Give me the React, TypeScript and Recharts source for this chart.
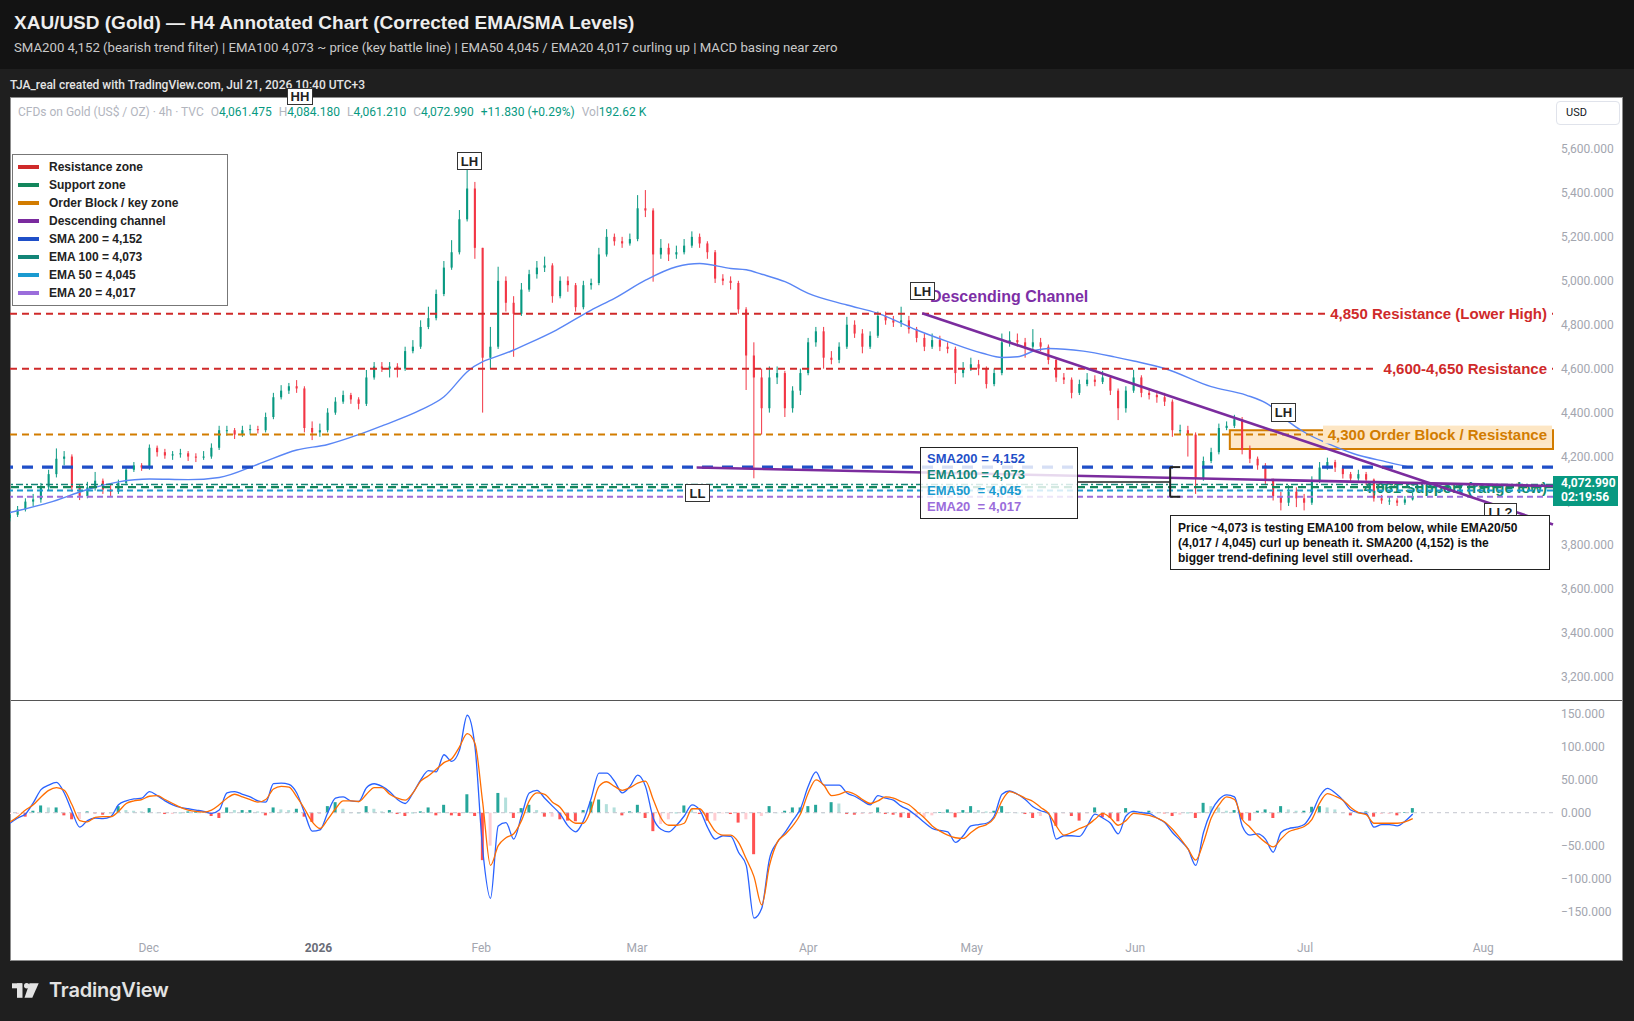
import React from 'react';
import { ComposedChart, Bar, Line, XAxis, YAxis, ReferenceLine, ReferenceArea } from 'recharts';

// ---------- DATA ----------
// x = bar index (one bar per trading day), price axis in USD
const FIRST_OPEN = 3920;
const CLOSE = [
  3935, 3960, 3995, 4005, 4060, 4120, 4190, 4200, 4060, 4020,
  4060, 4090, 4050, 4040, 4080, 4140, 4160, 4150, 4240, 4220,
  4205, 4210, 4215, 4200, 4195, 4200, 4240, 4320, 4320, 4300,
  4320, 4325, 4320, 4380, 4470, 4500, 4520, 4510, 4330, 4310,
  4320, 4400, 4450, 4480, 4460, 4440, 4560, 4610, 4600, 4610,
  4600, 4680, 4700, 4790, 4830, 4940, 5060, 5130, 5280, 5420,
  5150, 4650, 4700, 5000, 4900, 4850, 4960, 5030, 5060, 5070,
  4930, 5000, 4980, 4880, 4980, 4990, 5120, 5200, 5180, 5170,
  5190, 5330, 5320, 5120, 5150, 5120, 5130, 5160, 5200, 5170,
  5130, 5010, 5000, 4990, 4870, 4660, 4560, 4420, 4560, 4580,
  4420, 4500, 4580, 4720, 4770, 4650, 4640, 4700, 4800, 4760,
  4700, 4750, 4840, 4820, 4810, 4820, 4780, 4740, 4700, 4730,
  4700, 4690, 4580, 4600, 4620, 4600, 4530, 4580, 4720, 4730,
  4720, 4700, 4720, 4700, 4640, 4560, 4550, 4490, 4530, 4550,
  4540, 4560, 4500, 4420, 4500, 4560, 4490, 4480, 4470, 4450,
  4320, 4320, 4300, 4100, 4180, 4220, 4330, 4340, 4370, 4230,
  4190, 4160, 4090, 4020, 3990, 4040, 4010, 3990, 4090, 4150,
  4175, 4150, 4120, 4100, 4120, 4095, 4010, 4000, 4000, 3990,
  4005, 4020,
];
const HIGH = [
  3950, 3975, 4010, 4030, 4080, 4140, 4237, 4225, 4210, 4075,
  4085, 4130, 4100, 4070, 4095, 4155, 4175, 4170, 4255, 4250,
  4235, 4225, 4235, 4225, 4215, 4225, 4260, 4340, 4340, 4330,
  4340, 4345, 4340, 4400, 4490, 4525, 4535, 4548, 4520, 4360,
  4350, 4420, 4470, 4500, 4490, 4470, 4594, 4630, 4630, 4630,
  4625, 4700, 4730, 4820, 4882, 4960, 5090, 5185, 5322, 5530,
  5450, 5150, 4790, 5064, 5020, 4930, 4990, 5050, 5090, 5110,
  5080, 5020, 5020, 4990, 5000, 5010, 5150, 5235, 5215, 5200,
  5215, 5390, 5413, 5330, 5190, 5170, 5160, 5190, 5225, 5215,
  5180, 5140, 5030, 5020, 5000, 4880, 4720, 4600, 4610, 4610,
  4590, 4520, 4600, 4740, 4790, 4790, 4680, 4720, 4836, 4820,
  4780, 4770, 4860, 4860, 4840, 4882, 4840, 4790, 4760, 4760,
  4750, 4720, 4700, 4630, 4650, 4640, 4610, 4600, 4760, 4770,
  4760, 4740, 4780, 4740, 4710, 4650, 4580, 4560, 4550, 4580,
  4570, 4590, 4570, 4510, 4520, 4595, 4570, 4510, 4500, 4490,
  4460, 4345, 4340, 4310, 4200, 4240, 4350, 4360, 4390, 4380,
  4250, 4200, 4170, 4100, 4040, 4070, 4060, 4030, 4110, 4175,
  4195, 4185, 4160, 4130, 4140, 4130, 4100, 4025, 4020, 4010,
  4020, 4035,
];
const LOW = [
  3905, 3925, 3950, 3975, 3990, 4045, 4105, 4160, 4040, 4002,
  4010, 4045, 4030, 4020, 4030, 4070, 4130, 4135, 4140, 4200,
  4190, 4185, 4195, 4180, 4175, 4185, 4190, 4230, 4295, 4280,
  4290, 4300, 4305, 4310, 4370, 4460, 4485, 4490, 4310, 4275,
  4290, 4310, 4390, 4440, 4440, 4415, 4430, 4550, 4585, 4560,
  4560, 4590, 4670, 4690, 4780, 4820, 4930, 5050, 5120, 5270,
  5100, 4400, 4600, 4690, 4860, 4654, 4840, 4950, 5010, 5040,
  4900, 4920, 4950, 4860, 4870, 4960, 4980, 5110, 5160, 5150,
  5160, 5180, 5290, 4996, 5100, 5090, 5100, 5120, 5150, 5150,
  5100, 4990, 4980, 4960, 4850, 4503, 4101, 4300, 4400, 4530,
  4380, 4400, 4480, 4570, 4700, 4600, 4620, 4625, 4690, 4740,
  4670, 4690, 4740, 4800, 4790, 4790, 4760, 4720, 4680, 4690,
  4680, 4670, 4530, 4560, 4590, 4570, 4510, 4520, 4570, 4700,
  4700, 4650, 4690, 4680, 4620, 4540, 4530, 4465, 4480, 4520,
  4520, 4530, 4480, 4366, 4400, 4490, 4470, 4460, 4445, 4430,
  4290, 4300, 4200, 4030, 4090, 4170, 4210, 4320, 4330, 4210,
  4170, 4140, 4070, 4000, 3955, 3975, 3970, 3955, 3980, 4080,
  4140, 4130, 4100, 4080, 4090, 4070, 3995, 3985, 3980, 3975,
  3980, 4000,
];

// 200 SMA curve (sampled along the blue line)
const SMA_IDX = [0, 5, 10, 14, 18, 23, 27, 32, 37, 41, 45, 48, 53, 56, 59, 65, 70.5, 75, 78, 82, 86, 89, 93, 95, 97, 100, 103, 108, 112, 117, 121, 125.5, 128, 130, 132.5, 134, 138.5, 142.5, 145, 149, 155, 159.5, 162.5, 164.7, 167.3, 170, 173.3, 177.6, 180.5];
const SMA_VAL = [3945, 3990, 4050, 4085, 4098, 4095, 4105, 4165, 4230, 4255, 4300, 4340, 4412, 4472, 4586, 4685, 4776, 4867, 4920, 5003, 5064, 5079, 5056, 5050, 5030, 4996, 4943, 4890, 4852, 4776, 4723, 4670, 4651, 4654, 4685, 4692, 4680, 4654, 4635, 4601, 4518, 4480, 4434, 4366, 4305, 4260, 4214, 4176, 4153];

// MACD (12,26,9) line and signal line
const MACD = [
  -16, -8, -2, 15, 35, 42, 46, 30, 2, -22,
  -12, -8, -9, -6, 12, 18, 21, 22, 32, 26,
  18, 12, 8, 6, 4, 2, -1, 4, 30, 32,
  28, 24, 18, 16, 44, 45, 43, 30, 0, -28,
  -26, 0, 22, 24, 18, 17, 38, 44, 40, 32,
  20, 14, 30, 50, 64, 62, 88, 78, 95, 148,
  100, -57, -130, -20, -15, -40, -5, 30, 34, 22,
  10, -2, -20, -29, -12, 22, 60, 60, 48, 30,
  40, 57, 40, -8, -25, -29, -19, -5, 12, 4,
  -22, -40, -35, -36, -60, -80, -160, -145, -70, -45,
  -30, -12, 6, 40, 62, 42, 42, 42, 30, 25,
  18, 12, 26, 22, 19, 10, 4, -5, -15, -24,
  -27, -29, -45, -35, -20, -18, -16, -5, 28, 33,
  28, 20, 9, 3, -1, -40, -35, -35, -36, -20,
  -2, -8, -16, -32, -5, 2, 0, -1, -8, -15,
  -30, -42, -55, -80, -30, 2, 20, 27, 24, -20,
  -34, -32, -40, -60, -30, -24, -22, -18, -1, 25,
  37, 30, 19, 4, 0, -1, -22, -18, -18, -20,
  -13, -2,
];
const SIGNAL = [
  -14, -6, 4, 12, 24, 34, 38, 34, 12, -12,
  -14, -7, -6, -6, 2, 14, 18, 20, 25, 26,
  20, 14, 8, 4, 2, 1, 4, 12, 22, 28,
  24, 20, 16, 20, 36, 40, 39, 24, 6, -14,
  -24, -10, 6, 18, 18, 17, 28, 38, 38, 28,
  22, 19, 30, 48, 56, 66, 76, 82, 100, 120,
  105, 15, -80, -50, -38, -32, -12, 18, 30, 28,
  16, 8, -8, -16, -16, 5, 40, 47, 40, 34,
  38, 45, 48, 20, -8, -19, -19, -16, 6, 6,
  -10, -28, -34, -34, -45, -70, -97, -140, -80, -45,
  -33, -20, -2, 30, 50, 42, 26, 28, 32, 28,
  20, 14, 18, 24, 22, 17, 12, 2, -8, -20,
  -28, -34, -38, -39, -30, -22, -18, -8, 18, 32,
  28, 22, 17, 8, -1, -20, -34, -30, -24, -19,
  -10, -1, -8, -19, -12, -1, -2, -4, -8, -14,
  -25, -39, -55, -72, -45, -8, 12, 24, 20, -10,
  -22, -35, -45, -52, -40, -29, -25, -21, -10, 15,
  29, 25, 19, 8, 0, -3, -16, -16, -16, -16,
  -14, -9,
];

// time axis
const MONTH_TICK_IDX = [17.9, 39.8, 60.8, 80.9, 103.0, 124.1, 145.2, 167.1, 190.1];
const MONTH_LABELS = ['Dec', '2026', 'Feb', 'Mar', 'Apr', 'May', 'Jun', 'Jul', 'Aug'];
const X_MAX = 199.1;

// price axis
const PRICE_TICKS = [3200, 3400, 3600, 3800, 4000, 4200, 4400, 4600, 4800, 5000, 5200, 5400, 5600];
const PRICE_DOMAIN = [3092, 5832];
const MACD_TICKS = [-150, -100, -50, 0, 50, 100, 150];
const MACD_DOMAIN = [-181.1, 169.6];

// key levels
const LEVEL_R1 = 4850;
const LEVEL_R2 = 4600;
const LEVEL_OB = 4300;
const OB_ZONE = { x1: 157.4, y1: 4234, y2: 4320 };
const SMA200 = 4152;
const EMA100 = 4073;
const SUPPORT = 4061;
const EMA50 = 4045;
const EMA20 = 4017;
const CHANNEL_UPPER = [{ x: 117.7, y: 4852 }, { x: X_MAX, y: 3891 }];
const CHANNEL_LOWER = [{ x: 88.6, y: 4150 }, { x: X_MAX, y: 4066 }];
const BRACKET = { x: 149.7, xTick: 151, xFrom: 137.7, top: SMA200, bottom: EMA20, mid: 4084 };

const LEGEND_ITEMS = [
  ['Resistance zone', '#cf2a2a'],
  ['Support zone', '#13865c'],
  ['Order Block / key zone', '#d27c00'],
  ['Descending channel', '#7a2a9e'],
  ['SMA 200 = 4,152', '#1f4fc8'],
  ['EMA 100 = 4,073', '#128577'],
  ['EMA 50 = 4,045', '#1a9ad0'],
  ['EMA 20 = 4,017', '#9b6ddb'],
];

// ---------- STYLE ----------
const UI = 'Roboto, "Liberation Sans", Arial, sans-serif';
const AN = '"Liberation Sans", Arial, sans-serif';
const RED = '#cf2a2a';
const ORANGE = '#d27c00';
const PURPLE = '#7b2c9e';
const BLUE = '#1f4fc8';
const TEAL = '#128577';
const GREEN = '#13865c';
const CYAN = '#1a9ad0';
const LAV = '#9b6ddb';
const UP = '#089981';
const DOWN = '#f23645';
const ZONE_FILL = '#fde6c4';

const Candle = (props: any) => {
  const { x, y, width, height, payload } = props;
  if (x == null || y == null) return null;
  const top = Math.min(y, y + height);
  const span = Math.abs(height);
  const { o, c, h, l } = payload;
  const k = span / Math.max(1e-6, h - l);
  const bTop = top + (h - Math.max(o, c)) * k;
  const bBot = top + (h - Math.min(o, c)) * k;
  const col = c >= o ? UP : DOWN;
  const cx = x + width / 2;
  return (
    <g>
      <line x1={cx} x2={cx} y1={top} y2={top + span} stroke={col} strokeWidth={1} />
      <rect x={x} y={bTop} width={width} height={Math.max(1, bBot - bTop)} fill={col} />
    </g>
  );
};

const HistBar = (props: any) => {
  const { x, y, width, height, payload } = props;
  if (x == null || y == null) return null;
  return <rect x={x} y={Math.min(y, y + height)} width={width} height={Math.max(0.5, Math.abs(height))} fill={payload.col} />;
};

const EndLabel = (props: any) => {
  const { viewBox, text, color, bg, bgW = 0 } = props;
  if (!viewBox) return null;
  const { x, y, width } = viewBox;
  const right = x + width - 6;
  return (
    <g>
      {bg ? <rect x={right - bgW - 5} y={y - 9} width={bgW + 10} height={18} fill={bg} /> : null}
      <text
        x={right}
        y={y}
        textAnchor="end"
        dominantBaseline="central"
        fill={color}
        fontFamily={AN}
        fontWeight="bold"
        fontSize={15}
      >
        {text}
      </text>
    </g>
  );
};

const fmtPrice = (v: number) => v.toLocaleString('en-US', { minimumFractionDigits: 3, maximumFractionDigits: 3 });
const fmtMacd = (v: number) => (v < 0 ? '\u2212' : '') + Math.abs(v).toFixed(3);

const TimeTick = (props: any) => {
  const { x, y, payload } = props;
  const idx = MONTH_TICK_IDX.indexOf(payload.value);
  const label = MONTH_LABELS[idx] ?? '';
  const bold = label === '2026';
  return (
    <text x={x} y={y} dy="0.71em" textAnchor="middle" fontFamily={UI} fontSize={12}
      fontWeight={bold ? 'bold' : 'normal'} fill={bold ? '#6a6d78' : '#a3a6af'}>
      {label}
    </text>
  );
};

const Tag = ({ left, top, w, h, text }: any) => (
  <div style={{
    position: 'absolute', left, top, width: w, height: h, boxSizing: 'border-box',
    border: '1px solid #333', background: '#fff', fontFamily: AN, fontWeight: 'bold',
    fontSize: 13, color: '#222', display: 'flex', alignItems: 'center', justifyContent: 'center',
  }}>{text}</div>
);

const gap = { marginLeft: 7 };

export default function App() {
  const candles = CLOSE.map((c, i) => ({
    i, c, o: i === 0 ? FIRST_OPEN : CLOSE[i - 1], h: HIGH[i], l: LOW[i],
  }));
  const smaData = SMA_IDX.map((i, k) => ({ i, v: SMA_VAL[k] }));
  const macdData = MACD.map((m, i) => {
    const hist = m - SIGNAL[i];
    const prev = i > 0 ? MACD[i - 1] - SIGNAL[i - 1] : hist;
    let col;
    if (hist >= 0) col = hist >= prev ? '#26a69a' : '#b2dfdb';
    else col = hist < prev ? '#ff5252' : '#ffcdd2';
    return { i, macd: m, signal: SIGNAL[i], hist, col };
  });

  return (
    <div style={{ position: 'absolute', left: 0, top: 0, width: 1634, height: 1021, background: '#1f1f1f', overflow: 'hidden', fontFamily: UI }}>
      {/* header */}
      <div style={{ position: 'absolute', left: 0, top: 0, width: 1634, height: 69, background: '#131313' }} />
      <div style={{ position: 'absolute', left: 14, top: 12, fontFamily: AN, fontSize: 19, lineHeight: '22px', fontWeight: 'bold', color: '#ededed', whiteSpace: 'nowrap' }}>
        XAU/USD (Gold) — H4 Annotated Chart (Corrected EMA/SMA Levels)
      </div>
      <div style={{ position: 'absolute', left: 14, top: 40, fontSize: 13.2, lineHeight: '16px', color: '#c9c9c9', whiteSpace: 'nowrap' }}>
        SMA200 4,152 (bearish trend filter) | EMA100 4,073 ~ price (key battle line) | EMA50 4,045 / EMA20 4,017 curling up | MACD basing near zero
      </div>
      <div style={{ position: 'absolute', left: 10, top: 77, fontSize: 12, lineHeight: '16px', fontWeight: 500, color: '#e4e4e4', whiteSpace: 'nowrap' }}>
        TJA_real created with TradingView.com, Jul 21, 2026 10:40 UTC+3
      </div>

      {/* chart panel */}
      <div style={{ position: 'absolute', left: 10, top: 97, width: 1613, height: 864, boxSizing: 'border-box', background: '#fff', border: '1px solid #8c8c8c' }} />
      <div style={{ position: 'absolute', left: 11, top: 700, width: 1611, height: 1, background: '#555' }} />

      {/* price pane */}
      <div style={{ position: 'absolute', left: 10, top: 98 }}>
        <ComposedChart width={1612} height={602} data={candles} margin={{ top: 0, right: 0, bottom: 0, left: 0 }}>
          <XAxis dataKey="i" type="number" domain={[0, X_MAX]} allowDataOverflow hide />
          <YAxis orientation="right" width={69} domain={PRICE_DOMAIN} allowDataOverflow ticks={PRICE_TICKS}
            tickFormatter={fmtPrice} axisLine={false} tickLine={false}
            tick={{ fill: '#a3a6af', fontSize: 12, fontFamily: UI }} />
          <ReferenceArea x1={OB_ZONE.x1} x2={X_MAX} y1={OB_ZONE.y1} y2={OB_ZONE.y2}
            fill={ZONE_FILL} fillOpacity={0.9} stroke={ORANGE} strokeWidth={2} ifOverflow="visible" />
          <Bar dataKey={(d: any) => [d.l, d.h]} barSize={3} shape={Candle} isAnimationActive={false} />
          <Line data={smaData} dataKey="v" type="monotone" stroke="#5a86f5" strokeWidth={1.4} dot={false} isAnimationActive={false} />

          <ReferenceLine y={LEVEL_R1} stroke={RED} strokeWidth={2} strokeDasharray="7 5"
            label={<EndLabel text="4,850 Resistance (Lower High)" color={RED} bg="#fff" bgW={217} />} />
          <ReferenceLine y={LEVEL_R2} stroke={RED} strokeWidth={2} strokeDasharray="7 5"
            label={<EndLabel text="4,600-4,650 Resistance" color={RED} bg="#fff" bgW={165} />} />
          <ReferenceLine y={LEVEL_OB} stroke={ORANGE} strokeWidth={2} strokeDasharray="7 5"
            label={<EndLabel text="4,300 Order Block / Resistance" color={ORANGE} bg={ZONE_FILL} bgW={219} />} />
          <ReferenceLine y={SMA200} stroke={BLUE} strokeWidth={3.2} strokeDasharray="11 9" />
          <ReferenceLine y={SUPPORT} stroke={GREEN} strokeWidth={2.4} strokeDasharray="8 5"
            label={<EndLabel text="4,061 Support (range low)" color="#138a6a" />} />
          <ReferenceLine y={EMA100} stroke={TEAL} strokeWidth={1.6} strokeDasharray="7 3 2 3" />
          <ReferenceLine y={EMA50} stroke={CYAN} strokeWidth={2} strokeDasharray="6 4" />
          <ReferenceLine y={EMA20} stroke={LAV} strokeWidth={2} strokeDasharray="6 4" />

          <ReferenceLine segment={CHANNEL_UPPER} stroke={PURPLE} strokeWidth={2.6} ifOverflow="visible" />
          <ReferenceLine segment={CHANNEL_LOWER} stroke={PURPLE} strokeWidth={2.6} ifOverflow="visible" />

          <ReferenceLine segment={[{ x: BRACKET.xFrom, y: BRACKET.mid }, { x: BRACKET.x, y: BRACKET.mid }]} stroke="#222" strokeWidth={1.5} />
          <ReferenceLine segment={[{ x: BRACKET.x, y: BRACKET.top }, { x: BRACKET.x, y: BRACKET.bottom }]} stroke="#222" strokeWidth={2} />
          <ReferenceLine segment={[{ x: BRACKET.x, y: BRACKET.top }, { x: BRACKET.xTick, y: BRACKET.top }]} stroke="#222" strokeWidth={2} />
          <ReferenceLine segment={[{ x: BRACKET.x, y: BRACKET.bottom }, { x: BRACKET.xTick, y: BRACKET.bottom }]} stroke="#222" strokeWidth={2} />
        </ComposedChart>
      </div>

      {/* MACD pane */}
      <div style={{ position: 'absolute', left: 10, top: 701 }}>
        <ComposedChart width={1612} height={259} data={macdData} margin={{ top: 0, right: 0, bottom: 0, left: 0 }}>
          <XAxis dataKey="i" type="number" domain={[0, X_MAX]} allowDataOverflow ticks={MONTH_TICK_IDX}
            height={28} axisLine={false} tickLine={false} tickMargin={5} tick={<TimeTick />} interval={0} />
          <YAxis orientation="right" width={69} domain={MACD_DOMAIN} allowDataOverflow ticks={MACD_TICKS}
            tickFormatter={fmtMacd} axisLine={false} tickLine={false}
            tick={{ fill: '#a3a6af', fontSize: 12, fontFamily: UI }} />
          <ReferenceLine y={0} stroke="#c3c6ce" strokeWidth={1} strokeDasharray="4 4" />
          <Bar dataKey="hist" barSize={3} shape={HistBar} isAnimationActive={false} />
          <Line dataKey="macd" type="monotone" stroke="#2962ff" strokeWidth={1.3} dot={false} isAnimationActive={false} />
          <Line dataKey="signal" type="monotone" stroke="#ff6d00" strokeWidth={1.3} dot={false} isAnimationActive={false} />
        </ComposedChart>
      </div>

      {/* symbol legend line */}
      <div style={{ position: 'absolute', left: 18, top: 104, fontSize: 12, lineHeight: '16px', color: '#b2b5be', whiteSpace: 'nowrap' }}>
        <span>CFDs on Gold (US$ / OZ) · 4h · TVC</span>
        <span style={gap}>O</span><span style={{ color: UP }}>4,061.475</span>
        <span style={gap}>H</span><span style={{ color: UP }}>4,084.180</span>
        <span style={gap}>L</span><span style={{ color: UP }}>4,061.210</span>
        <span style={gap}>C</span><span style={{ color: UP }}>4,072.990</span>
        <span style={{ ...gap, color: UP }}>+11.830 (+0.29%)</span>
        <span style={gap}>Vol</span><span style={{ color: UP }}>192.62 K</span>
      </div>

      {/* USD box */}
      <div style={{ position: 'absolute', left: 1556, top: 101, width: 64, height: 24, boxSizing: 'border-box', border: '1px solid #e0e3eb', borderRadius: 4, background: '#fff', fontSize: 11, color: '#131722', lineHeight: '22px', paddingLeft: 9 }}>USD</div>

      {/* current price tag */}
      <div style={{ position: 'absolute', left: 1553, top: 476, width: 65, height: 30, background: '#089981', color: '#fff', fontSize: 12, fontWeight: 'bold', lineHeight: '13.5px', paddingLeft: 8, paddingTop: 1, boxSizing: 'border-box' }}>
        4,072.990<br />02:19:56
      </div>

      {/* legend */}
      <div style={{ position: 'absolute', left: 12, top: 154, width: 216, height: 152, boxSizing: 'border-box', border: '1px solid #777', background: '#fff', paddingTop: 3 }}>
        {LEGEND_ITEMS.map(([label, col]) => (
          <div key={label} style={{ height: 18, display: 'flex', alignItems: 'center' }}>
            <div style={{ width: 21, height: 4, background: col, marginLeft: 5, marginRight: 10 }} />
            <span style={{ fontFamily: AN, fontWeight: 'bold', fontSize: 12, color: '#222' }}>{label}</span>
          </div>
        ))}
      </div>

      {/* channel caption */}
      <div style={{ position: 'absolute', left: 930, top: 287, fontFamily: AN, fontWeight: 'bold', fontSize: 16, lineHeight: '20px', color: '#7d2fa6', whiteSpace: 'nowrap' }}>
        Descending Channel
      </div>

      {/* swing labels */}
      <Tag left={287} top={88} w={26} h={17} text="HH" />
      <Tag left={457} top={152} w={25} h={18} text="LH" />
      <Tag left={910} top={282} w={25} h={18} text="LH" />
      <Tag left={1271} top={403} w={25} h={19} text="LH" />
      <Tag left={685} top={484} w={25} h={18} text="LL" />
      <Tag left={1484} top={503} w={33} h={18} text="LL?" />

      {/* MA value box */}
      <div style={{ position: 'absolute', left: 920, top: 447, width: 158, height: 72, boxSizing: 'border-box', border: '1px solid #222', background: 'rgba(255,255,255,0.82)', paddingLeft: 6, paddingTop: 3, fontFamily: AN, fontWeight: 'bold', fontSize: 13, lineHeight: '16px', whiteSpace: 'pre' }}>
        <div style={{ color: BLUE }}>SMA200 = 4,152</div>
        <div style={{ color: TEAL }}>EMA100 = 4,073</div>
        <div style={{ color: CYAN }}>EMA50  = 4,045</div>
        <div style={{ color: LAV }}>EMA20  = 4,017</div>
      </div>

      {/* annotation */}
      <div style={{ position: 'absolute', left: 1170, top: 515, width: 380, height: 55, boxSizing: 'border-box', border: '1px solid #222', background: '#fff', paddingLeft: 7, paddingTop: 5, fontFamily: AN, fontWeight: 'bold', fontSize: 12, lineHeight: '15px', color: '#111', whiteSpace: 'nowrap' }}>
        <div>Price ~4,073 is testing EMA100 from below, while EMA20/50</div>
        <div>(4,017 / 4,045) curl up beneath it. SMA200 (4,152) is the</div>
        <div>bigger trend-defining level still overhead.</div>
      </div>

      {/* TradingView footer */}
      <svg style={{ position: 'absolute', left: 0, top: 975 }} width={60} height={30}>
        <rect x={12} y={8.3} width={10} height={5} fill="#e3e3e3" />
        <rect x={17} y={8.3} width={5.5} height={14.5} fill="#e3e3e3" />
        <circle cx={26.7} cy={10.8} r={2.7} fill="#e3e3e3" />
        <polygon points="29.5,8.3 38.7,8.3 32.3,22.8 24.5,22.8" fill="#e3e3e3" />
      </svg>
      <div style={{ position: 'absolute', left: 49, top: 978, fontFamily: 'Inter, Roboto, sans-serif', fontWeight: 600, fontSize: 20, lineHeight: '24px', color: '#e3e3e3', letterSpacing: -0.2 }}>
        TradingView
      </div>
    </div>
  );
}
